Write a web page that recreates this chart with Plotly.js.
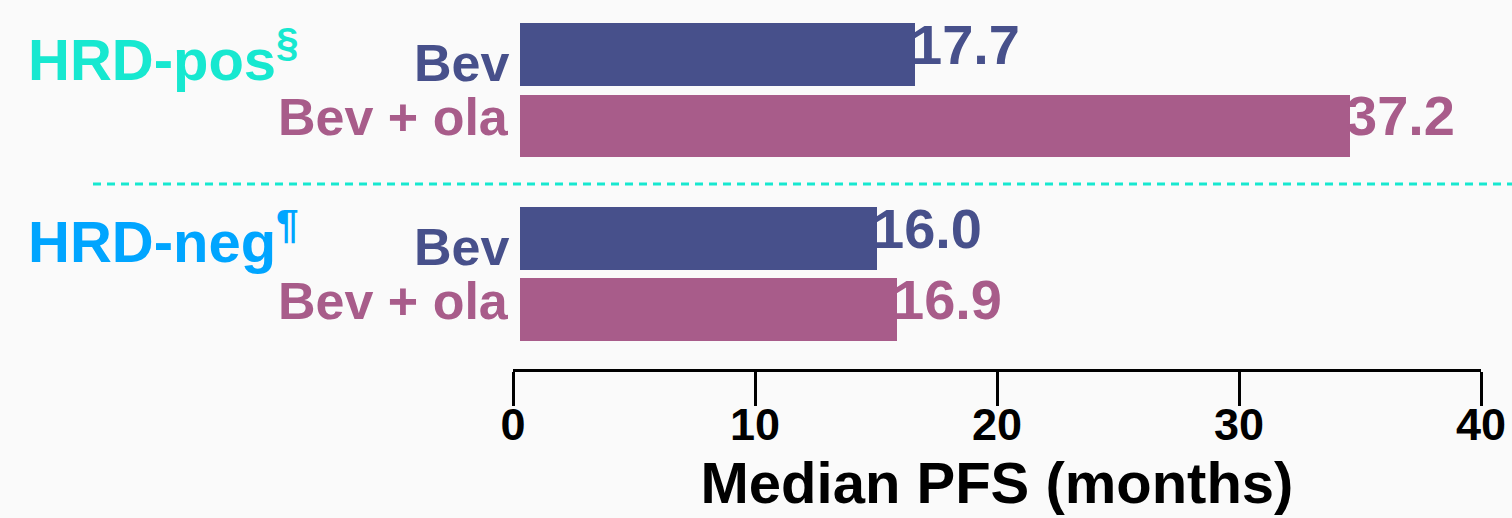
<!DOCTYPE html>
<html>
<head>
<meta charset="utf-8">
<script src="https://cdn.plot.ly/plotly-3.0.1.min.js"></script>
<style>
  html, body { margin: 0; padding: 0; background: #fafafa; }
  #chart { width: 1512px; height: 518px; }
</style>
</head>
<body>
<div id="chart"></div>
<script>
// Median progression-free survival by HRD status and treatment arm
const groups = ['HRD-pos<sup>§</sup>', 'HRD-neg<sup>¶</sup>'];
const arms = ['Bev', 'Bev + ola'];
const pfsHrdPos = [17.7, 37.2];
const pfsHrdNeg = [16.0, 16.9];
const axisTicks = [0, 10, 20, 30, 40];

const W = 1512, H = 518;
const px = v => v / W;
const py = v => 1 - v / H;

const armColors = ['#47508b', '#a85c8a'];
const groupColors = ['#17e8d0', '#00a5ff'];
const FONT = 'Liberation Sans, Arial, sans-serif';

const seriesByGroup = [pfsHrdPos, pfsHrdNeg];
const yRefs = ['y', 'y2'];

const traces = seriesByGroup.map((vals, g) => ({
  type: 'bar',
  orientation: 'h',
  x: vals,
  y: arms,
  xaxis: 'x',
  yaxis: yRefs[g],
  width: 0.88,
  marker: { color: armColors },
  hoverinfo: 'x+y',
  showlegend: false
}));

// carrier for the months scale so its subplot gets drawn
traces.push({
  type: 'scatter',
  mode: 'markers',
  x: axisTicks,
  y: axisTicks.map(() => 0),
  xaxis: 'x2',
  yaxis: 'y3',
  marker: { opacity: 0, size: 1 },
  hoverinfo: 'skip',
  showlegend: false
});

const annotations = [];
seriesByGroup.forEach((vals, g) => {
  // group heading
  annotations.push({
    xref: 'paper', yref: yRefs[g],
    x: px(26), y: arms[0],
    xanchor: 'left', yanchor: 'middle',
    yshift: g === 0 ? -1 : 1,
    text: '<b>' + groups[g] + '</b>',
    showarrow: false,
    font: { family: FONT, size: 58, color: groupColors[g] }
  });
  vals.forEach((v, i) => {
    // arm label left of the bar
    annotations.push({
      xref: 'paper', yref: yRefs[g],
      x: px(511), y: arms[i],
      xanchor: 'right', yanchor: 'middle',
      yshift: i === 0 ? -9 : 9,
      text: '<b>' + arms[i] + '</b>',
      showarrow: false,
      font: { family: FONT, size: 52, color: armColors[i] }
    });
    // value label at the bar end
    annotations.push({
      xref: 'x', yref: yRefs[g],
      x: v, y: arms[i],
      xanchor: 'left', yanchor: 'middle',
      xshift: -6, yshift: 10,
      text: '<b>' + v.toFixed(1) + '</b>',
      showarrow: false,
      font: { family: FONT, size: 56, color: armColors[i] }
    });
  });
});

const hiddenY = {
  visible: false,
  fixedrange: true,
  type: 'category',
  range: [1.5, -0.5]
};

const layout = {
  width: W, height: H,
  margin: { l: 0, r: 0, t: 0, b: 0 },
  paper_bgcolor: '#fafafa',
  plot_bgcolor: 'rgba(0,0,0,0)',
  bargap: 0,
  xaxis: {
    domain: [px(520), 1],
    range: [0, 44.48],
    visible: false,
    fixedrange: true
  },
  // scale shown under the bars
  xaxis2: {
    anchor: 'y3',
    side: 'bottom',
    domain: [px(513), px(1481)],
    range: [0, 40],
    tickvals: axisTicks,
    ticktext: axisTicks.map(t => '<b>' + t + '</b>'),
    ticks: 'outside',
    ticklen: 34,
    tickwidth: 3,
    tickcolor: '#000',
    ticklabelstandoff: -20,
    showline: true,
    linewidth: 3,
    linecolor: '#000',
    showgrid: false,
    zeroline: false,
    fixedrange: true,
    tickfont: { family: FONT, size: 45, color: '#000' },
    title: {
      text: '<b>Median PFS (months)</b>',
      font: { family: FONT, size: 58, color: '#000' },
      standoff: 12
    }
  },
  yaxis: Object.assign({ domain: [py(161.75), py(18.75)] }, hiddenY),
  yaxis2: Object.assign({ domain: [py(345.25), py(202.75)], anchor: 'x' }, hiddenY),
  yaxis3: {
    domain: [py(369), py(360)],
    anchor: 'x2',
    range: [0, 1],
    visible: false,
    fixedrange: true
  },
  shapes: [{
    type: 'line', xref: 'paper', yref: 'paper',
    x0: px(93), x1: 1, y0: py(184), y1: py(184),
    line: { color: '#17e8d0', width: 3, dash: '8px,6px' }
  }],
  annotations: annotations
};

Plotly.newPlot('chart', traces, layout, { displayModeBar: false, staticPlot: true });
</script>
</body>
</html>
